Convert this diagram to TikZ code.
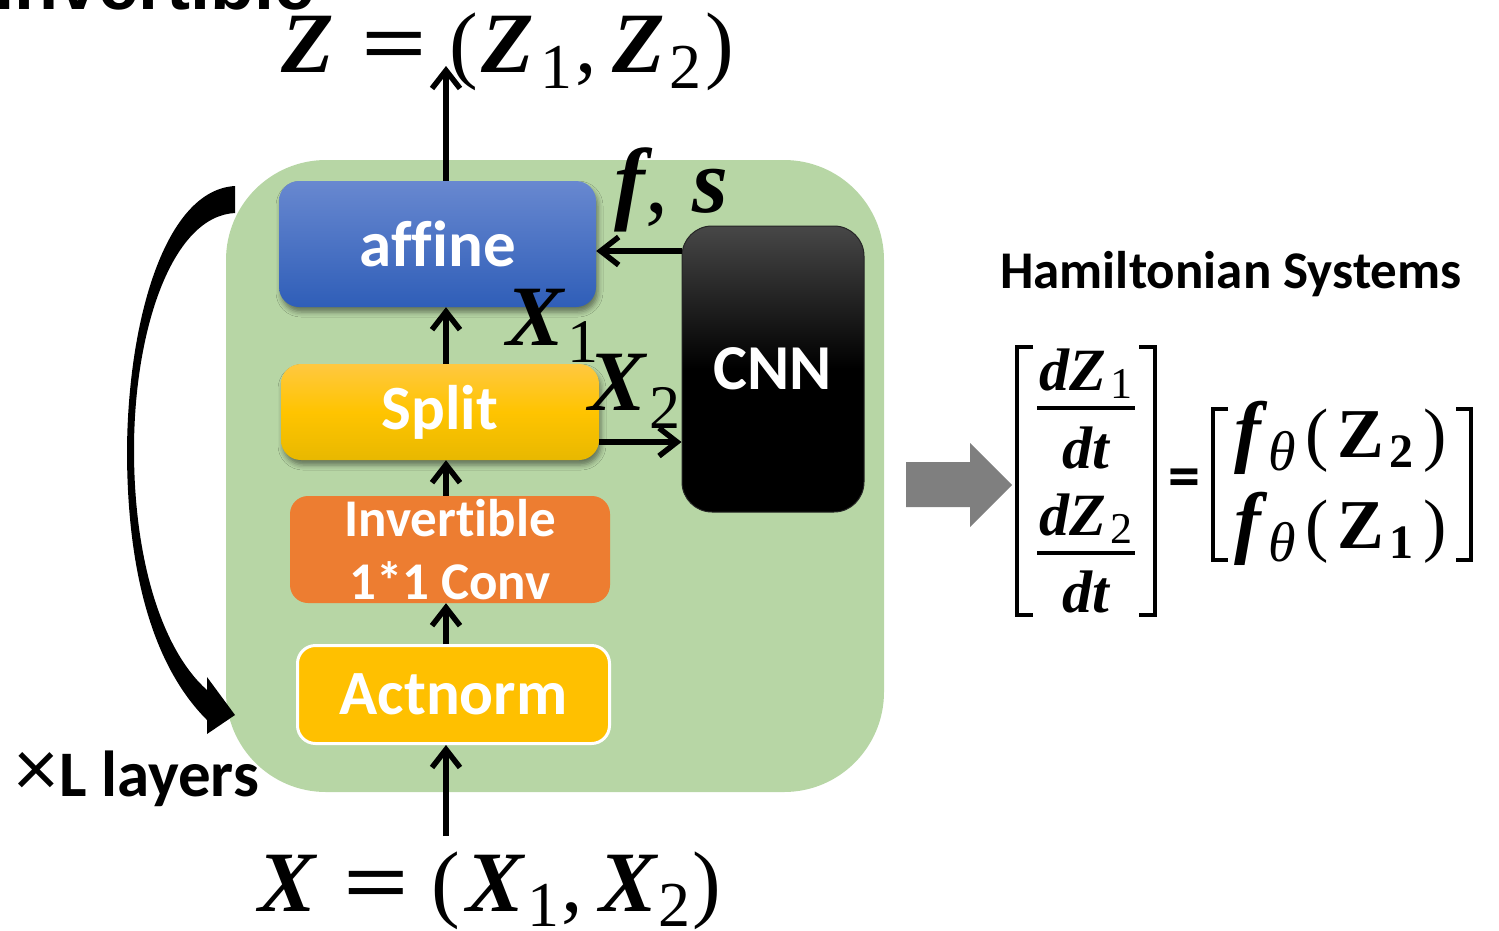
\documentclass[tikz,border=0pt]{standalone}
\usepackage{fontspec}
\setmainfont{Carlito}[Ligatures=NoCommon]
\newfontfamily\mathserif{Liberation Serif}
\newfontfamily\headsans{Liberation Sans}
\usetikzlibrary{arrows.meta,shadows,shadows.blur}

\definecolor{panel}{RGB}{183,214,165}
\definecolor{affinetop}{RGB}{104,136,208}
\definecolor{affinebot}{RGB}{47,94,184}
\definecolor{splittop}{RGB}{255,200,64}
\definecolor{splitmid}{RGB}{255,196,0}
\definecolor{splitbot}{RGB}{232,184,0}
\definecolor{convorange}{RGB}{237,125,49}
\definecolor{actgold}{RGB}{255,192,0}
\definecolor{flowgray}{RGB}{127,127,127}

% bold italic symbol, a lowered subscript of given size, a wide equals sign
\newcommand\bi[1]{{\bfseries\itshape #1}}
\newcommand\lowsub[3]{\raisebox{-#1}{\fontsize{#2}{#2}\selectfont #3}}
\newcommand\wideeq{\scalebox{1.35}[1]{\bfseries =}}
% one entry of the right-hand vector
\newcommand\fentry[1]{{\fontsize{80}{80}\selectfont\bi{f}}\hspace{8pt}\lowsub{13pt}{56}{\itshape θ}\hspace{9pt}(\hspace{9pt}{\bfseries Z}\hspace{5pt}\lowsub{10pt}{48}{\bfseries #1}\hspace{10pt})}

\begin{document}
\begin{tikzpicture}[x=1pt,y=-1pt,
  box/.style={rounded corners=20pt, inner sep=0pt, text=white, align=center,
    font=\fontsize{63}{63}\selectfont\bfseries},
  soft/.style={blur shadow={shadow xshift=2pt, shadow yshift=-5pt,
    shadow blur radius=5pt, shadow opacity=45}},
  flow/.style={line width=5.5pt, -{Straight Barb[length=18pt,width=28pt]}},
  mathtxt/.style={inner sep=0pt, font=\mathserif\fontsize{86}{86}\selectfont},
  fracrow/.style={inner sep=0pt, anchor=base, font=\mathserif\fontsize{60}{60}\selectfont},
  vecrow/.style={inner sep=0pt, anchor=base west, font=\mathserif\fontsize{70}{70}\selectfont},
]
\useasboundingbox (0,0) rectangle (1499,930);

% heading, mostly above the page
\node[inner sep=0pt, anchor=base west, font=\headsans\fontsize{72}{72}\selectfont\bfseries]
  (head) at (-6,9) {Invertible};

% flow-step panel
\node[rounded corners=100pt, fill=panel, minimum width=658pt, minimum height=632pt,
  inner sep=0pt] (panel) at (555,476) {};

% blocks
\node[box, soft, minimum width=317pt, minimum height=126pt, font=\fontsize{65}{65}\selectfont\bfseries,
  top color=affinetop, bottom color=affinebot] (affine) at (437.5,244) {affine};
\node[box, soft, minimum width=318pt, minimum height=96pt,
  top color=splittop, bottom color=splitbot, middle color=splitmid] (split) at (440,412) {Split};
\node[box, rounded corners=18pt, fill=convorange, minimum width=320pt, minimum height=107pt,
  font=\fontsize{53}{63}\selectfont\bfseries] (conv) at (450,549.5) {Invertible\\1*1 Conv};
\node[box, rounded corners=18pt, fill=actgold, draw=white, line width=3pt,
  minimum width=312pt, minimum height=98pt] (act) at (453.5,694.5) {Actnorm};
\node[box, rounded corners=30pt, top color=black!72, bottom color=black, middle color=black,
  draw=black!85, line width=1pt, minimum width=182pt, minimum height=286pt,
  font=\fontsize{64}{64}\selectfont\bfseries] (cnn) at (773,369) {CNN};

% reference points for the connectors
\coordinate (spine) at (446,0);
\coordinate (zend) at (446,66);
\coordinate (xstart) at (446,836);
\coordinate (fsrow) at (0,251);
\coordinate (x2row) at (0,442);

\draw[flow] (xstart) -- (act.south -| spine);
\draw[flow] (act.north -| spine) -- (conv.south -| spine);
\draw[flow] (conv.north -| spine) -- (split.south -| spine);
\draw[flow] (split.north -| spine) -- (affine.south -| spine);
\draw[flow] (affine.north -| spine) -- (zend);
\draw[flow] (cnn.west |- fsrow) -- (affine.east |- fsrow);
\draw[flow] (split.east |- x2row) -- (cnn.west |- x2row);

% curved loop arrow
\fill[black] (235,186) .. controls (165,190) and (128,320) .. (127,450)
  .. controls (127,570) and (152,665) .. (207,720)
  -- (207,734) -- (235,715) -- (207,677) -- (207,690)
  .. controls (162,650) and (134,560) .. (134,450)
  .. controls (134,330) and (172,216) .. (235,213) -- cycle;

\node[inner sep=0pt, anchor=base west, font=\fontsize{62}{62}\selectfont]
  (layers) at (15,796) {\fontsize{84}{84}\selectfont ×\hspace{2pt}\fontsize{65}{65}\selectfont\textbf{L layers}};

% input and output
\node[mathtxt, anchor=base west] (zout) at (281,72)
  {\bi{Z}\hspace{28pt}\wideeq\hspace{22pt}(\hspace{3pt}\bi{Z}\hspace{6pt}\lowsub{16pt}{64}{1}\hspace{3pt},\hspace{16pt}\bi{Z}\hspace{4pt}\lowsub{16pt}{64}{2}\hspace{4pt})};
\node[mathtxt, anchor=base west] (xin) at (258,911)
  {\bi{X}\hspace{28pt}\wideeq\hspace{22pt}(\hspace{6pt}\bi{X}\hspace{4pt}\lowsub{15pt}{64}{1}\hspace{2pt},\hspace{16pt}\bi{X}\hspace{2pt}\lowsub{15pt}{64}{2}\hspace{2pt})};

% branch labels
\node[mathtxt, anchor=base west, font=\mathserif\fontsize{92}{92}\selectfont] (fs) at (614,212)
  {\bi{f}\hspace{1pt},\hspace{24pt}\bi{s}};
\node[mathtxt, anchor=base west] (xa) at (506,345) {\bi{X}\hspace{4pt}\lowsub{17pt}{62}{1}};
\node[mathtxt, anchor=base west] (xb) at (588,410) {\bi{X}\hspace{4pt}\lowsub{18pt}{62}{2}};

% Hamiltonian system
\node[inner sep=0pt, anchor=base west, font=\fontsize{53}{53}\selectfont\bfseries]
  (ham) at (1000,288) {Hamiltonian Systems};
\fill[flowgray] (906,462) -- (970,462) -- (970,443) -- (1012,485) -- (970,527)
  -- (970,507) -- (906,507) -- cycle;

\draw[line width=4pt] (1033,347) -- (1017,347) -- (1017,615) -- (1033,615);
\draw[line width=4pt] (1139,347) -- (1155,347) -- (1155,615) -- (1139,615);
\node[fracrow] (num1) at (1086,390) {\bi{dZ}\hspace{4pt}\lowsub{8pt}{44}{1}};
\draw[line width=4pt] (1037,408) -- (1135,408);
\node[fracrow] (den1) at (1086,468) {\bi{dt}};
\node[fracrow] (num2) at (1086,535) {\bi{dZ}\hspace{4pt}\lowsub{8pt}{44}{2}};
\draw[line width=4pt] (1037,553) -- (1135,553);
\node[fracrow] (den2) at (1086,612) {\bi{dt}};

\node[inner sep=0pt, font=\fontsize{64}{64}\selectfont\bfseries] (eq) at (1184,483) {=};

\draw[line width=4pt] (1228,409) -- (1213,409) -- (1213,560) -- (1228,560);
\draw[line width=4pt] (1456,409) -- (1471,409) -- (1471,560) -- (1456,560);
\node[vecrow] (row1) at (1234,457) {\fentry{2}};
\node[vecrow] (row2) at (1234,548) {\fentry{1}};
\end{tikzpicture}
\end{document}
